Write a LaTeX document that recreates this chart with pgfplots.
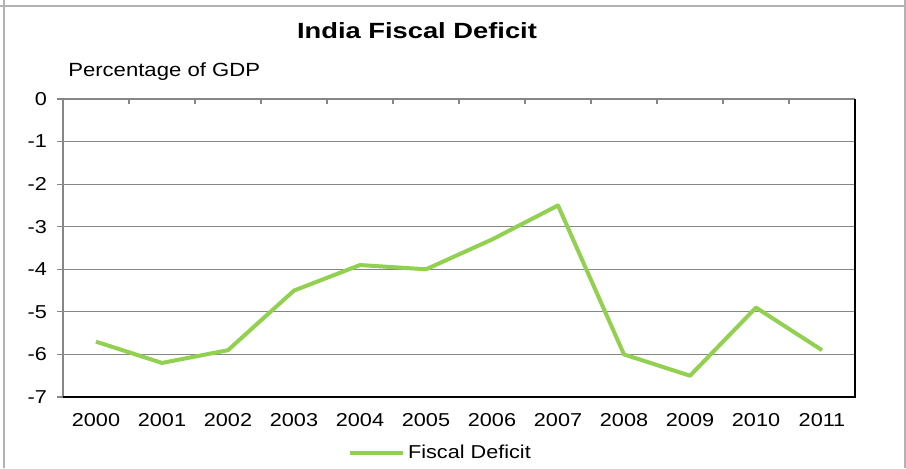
\documentclass[border=0pt]{standalone}
\usepackage{pgfplots}
\pgfplotsset{compat=1.18}
\usepackage{fontspec}
\setmainfont[FakeStretch=1.16]{Liberation Sans}
\definecolor{linegreen}{HTML}{92D050}
\definecolor{gridgray}{HTML}{868686}
\begin{document}
\begin{tikzpicture}[x=0.75pt,y=0.75pt]
\useasboundingbox (0,0) rectangle (906,468);
\fill[white] (0,0) rectangle (906,468);
\draw[gray!60, line width=1.5pt] (0,462) -- (906,462);
\draw[gray!60, line width=1.5pt] (4,0) -- (4,468);
\draw[gray!60, line width=1.5pt] (905,0) -- (905,468);
\node[font=\fontsize{16.5}{18}\selectfont\bfseries, inner sep=0pt] at (417,468-30.5) {\scalebox{1.07}[1]{India Fiscal Deficit}};
\node[font=\fontsize{14.3}{16}\selectfont, anchor=west, inner sep=0pt] at (68,468-72) {Percentage of GDP};
\begin{axis}[
  at={(47.25pt,53.25pt)}, anchor=south west,
  scale only axis, width=594pt, height=223.5pt,
  xmin=-0.5, xmax=11.5, ymin=-7, ymax=0,
  xtick={0,...,11},
  xticklabels={2000,2001,2002,2003,2004,2005,2006,2007,2008,2009,2010,2011},
  ytick={-7,-6,...,0},
  /pgf/number format/assume math mode=true,
  ticklabel style={font=\fontsize{14}{16}\selectfont},
  major x tick style={draw=none},
  y tick style={draw=gridgray, line width=0.8pt},
  ytick pos=left, xtick pos=lower,
  tick align=outside,
  major tick length=4.5pt,
  xticklabel style={yshift=-4pt},
  yticklabel style={xshift=-4pt},
  ymajorgrids, grid style={gridgray, line width=0.8pt},
  axis line style={draw=none},
  legend style={at={(0.477,-0.188)}, anchor=center, draw=none, fill=none,
    font=\fontsize{14}{16}\selectfont, legend columns=1},
  legend image code/.code={\draw[#1, line width=3pt] (0pt,0pt) -- (40pt,0pt);},
  clip=false,
]
\addplot[linegreen, line width=3pt, line join=round] coordinates {
  (0,-5.7) (1,-6.2) (2,-5.9) (3,-4.5) (4,-3.9) (5,-4.0)
  (6,-3.3) (7,-2.5) (8,-6.0) (9,-6.5) (10,-4.9) (11,-5.9)
};
\addlegendentry{Fiscal Deficit}
\draw[gridgray, line width=1pt] (rel axis cs:0,0) -- (rel axis cs:0,1) -- (rel axis cs:1,1);
\draw[black, line width=1.2pt] (rel axis cs:0,0) -- (rel axis cs:1,0) -- (rel axis cs:1,1);
\pgfplotsinvokeforeach{0.5,1.5,2.5,3.5,4.5,5.5,6.5,7.5,8.5,9.5,10.5}{
  \draw[gridgray, line width=1pt] (axis cs:#1,0) -- ++(0pt,-4pt);
}
\end{axis}
\end{tikzpicture}
\end{document}
